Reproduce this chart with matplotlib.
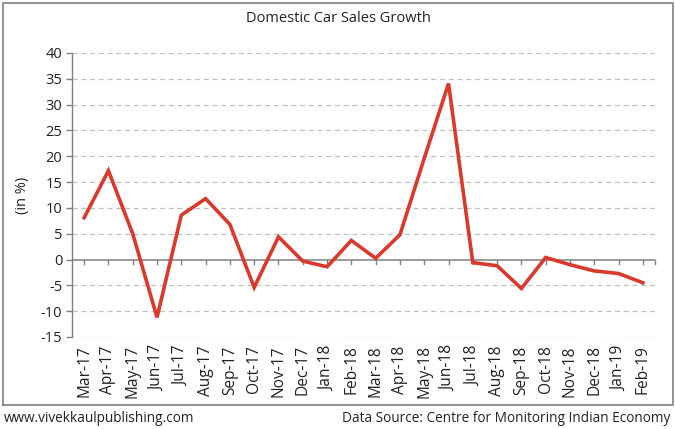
import matplotlib
matplotlib.use("Agg")
import matplotlib.pyplot as plt
from matplotlib.lines import Line2D

plt.rcParams['font.family'] = ['Open Sans', 'DejaVu Sans']

months = ["Mar-17", "Apr-17", "May-17", "Jun-17", "Jul-17", "Aug-17", "Sep-17",
          "Oct-17", "Nov-17", "Dec-17", "Jan-18", "Feb-18", "Mar-18", "Apr-18",
          "May-18", "Jun-18", "Jul-18", "Aug-18", "Sep-18", "Oct-18", "Nov-18",
          "Dec-18", "Jan-19", "Feb-19"]
growth = [8.1, 17.2, 5.0, -11.2, 8.6, 11.8, 6.8, -5.4, 4.4, -0.3, -1.4, 3.7,
          0.25, 4.8, 19.6, 34.1, -0.6, -1.2, -5.6, 0.4, -1.0, -2.2, -2.7, -4.5]
yticks = list(range(-15, 41, 5))

fig = plt.figure(figsize=(6.75, 4.29), dpi=100)
ax = fig.add_axes([72/675, 1-337/429, (655-72)/675, (337-53)/429])

x = list(range(len(months)))
ax.plot(x, growth, color='#d93a2b', lw=2.6, solid_joinstyle='miter', zorder=3)

ax.set_xlim(-0.5, len(months) - 0.5)
ax.set_ylim(-15, 40)
ax.set_yticks(yticks)
ax.set_yticklabels([str(v) for v in yticks], fontsize=10.5, color='#222222')
for v in yticks:
    if v != 0:
        ax.axhline(v, color='#c0c0c0', lw=0.9, ls=(0, (4, 3)), zorder=1)
ax.axhline(0, color='#808080', lw=1.1, zorder=2)

# category ticks at zero line
for xi in x:
    ax.plot([xi, xi], [0, -0.8], color='#808080', lw=1.0, zorder=2, clip_on=False)
ax.plot([len(months) - 0.5] * 2, [0, -0.8], color='#808080', lw=1.0, clip_on=False)

ax.set_xticks(x)
ax.set_xticklabels(months, rotation=90, fontsize=11.2, color='#222222')
ax.tick_params(axis='x', length=0, pad=6)
ax.tick_params(axis='y', length=4, color='#808080', width=1.0, pad=3)

for s in ['top', 'right', 'bottom']:
    ax.spines[s].set_visible(False)
ax.spines['left'].set_color('#808080')
ax.spines['left'].set_linewidth(1.0)

ax.set_ylabel('(in %)', fontsize=10.5, color='#222222', labelpad=8)

fig.text(338/675, 1-18/429, 'Domestic Car Sales Growth', ha='center', va='center',
         fontsize=10.5, color='#222222')

# outer frame
fx0, fx1 = 2.5/675, 672.5/675
fy0, fy1 = 1-404.5/429, 1-2.5/429
fig.add_artist(Line2D([fx0, fx0, fx1, fx1, fx0], [fy0, fy1, fy1, fy0, fy0],
                      transform=fig.transFigure, color='#808080', lw=1.2))

fig.text(4/675, 1-418/429, 'www.vivekkaulpublishing.com', ha='left', va='center',
         fontsize=9.8, color='#222222')
fig.text(670/675, 1-418/429, 'Data Source: Centre for Monitoring Indian Economy',
         ha='right', va='center', fontsize=9.8, color='#222222')

fig.savefig('out.png', dpi=100)
